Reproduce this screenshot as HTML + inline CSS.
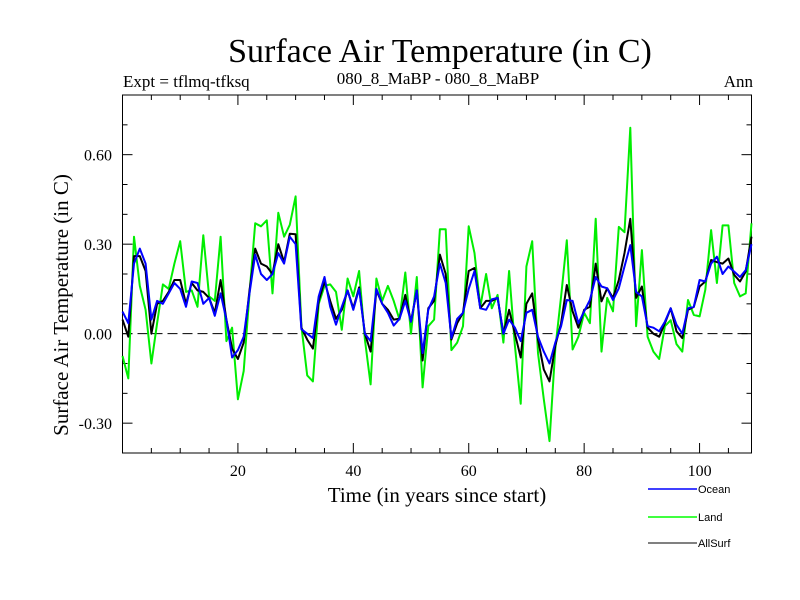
<!DOCTYPE html>
<html><head><meta charset="utf-8"><style>
html,body{margin:0;padding:0;background:#fff;}
svg{display:block;}
text{font-family:"Liberation Serif",serif;fill:#000;}
.leg{font-family:"Liberation Sans",sans-serif;font-size:11px;}
</style></head><body>
<svg id="chart" width="800" height="600" viewBox="0 0 800 600">
<text x="440" y="62" font-size="34" text-anchor="middle">Surface Air Temperature (in C)</text>
<text x="123" y="87" font-size="17">Expt = tflmq-tfksq</text>
<text x="438" y="84" font-size="17" text-anchor="middle">080_8_MaBP - 080_8_MaBP</text>
<text x="753" y="87" font-size="17" text-anchor="end">Ann</text>
<text transform="translate(68,305) rotate(-90)" font-size="21" text-anchor="middle">Surface Air Temperature (in C)</text>
<text x="437" y="502" font-size="21" text-anchor="middle">Time (in years since start)</text>
<g id="axes"></g>
<g id="series"></g>
<g>
<line x1="648" y1="489" x2="697" y2="489" stroke="#0000ff" stroke-width="1.5"/>
<text class="leg" x="698" y="493">Ocean</text>
<line x1="648" y1="517" x2="697" y2="517" stroke="#00ff00" stroke-width="1.5"/>
<text class="leg" x="698" y="521">Land</text>
<line x1="648" y1="543" x2="697" y2="543" stroke="#000" stroke-width="1"/>
<text class="leg" x="698" y="547">AllSurf</text>
</g>
</svg>
<script>
const ocean=[0.074,0.035,0.235,0.285,0.235,0.047,0.11,0.10,0.135,0.17,0.15,0.09,0.175,0.17,0.10,0.12,0.06,0.135,0.047,-0.08,-0.055,-0.01,0.135,0.265,0.20,0.18,0.20,0.27,0.235,0.325,0.30,0.015,0.0,-0.015,0.125,0.19,0.09,0.03,0.09,0.145,0.08,0.15,0.0,-0.025,0.15,0.10,0.07,0.027,0.05,0.11,0.04,0.145,-0.065,0.08,0.125,0.235,0.17,-0.015,0.05,0.07,0.15,0.21,0.085,0.08,0.115,0.12,0.0,0.047,0.02,-0.025,0.07,0.08,-0.01,-0.06,-0.10,-0.03,0.025,0.113,0.11,0.035,0.075,0.113,0.19,0.158,0.152,0.113,0.152,0.225,0.297,0.14,0.125,0.025,0.02,0.008,0.04,0.085,0.03,0.0,0.085,0.09,0.18,0.175,0.235,0.258,0.20,0.225,0.208,0.19,0.213,0.30];
const land=[-0.075,-0.15,0.325,0.16,0.08,-0.10,0.035,0.165,0.15,0.235,0.31,0.14,0.145,0.09,0.33,0.125,0.11,0.325,-0.025,0.02,-0.22,-0.125,0.135,0.37,0.36,0.38,0.135,0.405,0.325,0.365,0.46,0.025,-0.14,-0.16,0.10,0.16,0.165,0.14,0.013,0.185,0.125,0.21,-0.02,-0.17,0.185,0.11,0.16,0.11,0.047,0.205,0.0,0.19,-0.18,0.025,0.047,0.35,0.35,-0.055,-0.03,0.025,0.36,0.27,0.09,0.20,0.085,0.13,-0.03,0.21,-0.04,-0.235,0.225,0.31,-0.065,-0.22,-0.36,-0.05,0.125,0.313,-0.053,-0.01,0.07,0.035,0.385,-0.06,0.12,0.075,0.358,0.34,0.69,0.025,0.28,-0.01,-0.06,-0.085,0.025,0.045,-0.035,-0.06,0.113,0.063,0.058,0.147,0.347,0.17,0.363,0.363,0.17,0.125,0.135,0.37];
const allsurf=[0.047,-0.01,0.26,0.26,0.21,0.0,0.10,0.11,0.14,0.18,0.18,0.10,0.17,0.145,0.14,0.12,0.07,0.18,0.047,-0.05,-0.085,-0.03,0.145,0.285,0.235,0.225,0.20,0.30,0.24,0.335,0.333,0.02,-0.02,-0.05,0.11,0.175,0.11,0.05,0.08,0.145,0.085,0.155,0.0,-0.06,0.145,0.10,0.08,0.047,0.05,0.13,0.04,0.145,-0.09,0.085,0.11,0.265,0.20,-0.02,0.035,0.07,0.21,0.22,0.085,0.11,0.11,0.12,0.0,0.08,0.0,-0.08,0.10,0.135,-0.02,-0.12,-0.16,-0.04,0.035,0.163,0.075,0.02,0.08,0.09,0.235,0.108,0.152,0.12,0.18,0.27,0.385,0.12,0.158,0.02,0.0,-0.01,0.035,0.085,0.008,-0.015,0.08,0.09,0.158,0.175,0.247,0.24,0.235,0.252,0.197,0.175,0.208,0.325];
const yTicks=[-0.3,0,0.3,0.6];
const yTickLabels=["-0.30","0.00","0.30","0.60"];
const xTicks=[20,40,60,80,100];
const xTickLabels=["20","40","60","80","100"];

const L=122.5,R=751.5,T=95,B=453;
const X0=0,X1=109,Y0=-0.4,Y1=0.8;
const xs=v=>L+(v-X0)/(X1-X0)*(R-L);
const ys=v=>B-(v-Y0)/(Y1-Y0)*(B-T);
const NS="http://www.w3.org/2000/svg";
function mk(tag,attrs,parent){const e=document.createElementNS(NS,tag);for(const k in attrs)e.setAttribute(k,attrs[k]);parent.appendChild(e);return e;}
const ax=document.getElementById('axes');
const frame=mk('rect',{x:L,y:T,width:R-L,height:B-T,fill:'none',stroke:'#000','stroke-width':1},ax);


const zl=mk('line',{x1:L,x2:R,y1:ys(0),y2:ys(0),stroke:'#000','stroke-width':1,'stroke-dasharray':'10,5'},ax);


for(let i=-3;i<=7;i++){const v=i/10;const maj=yTicks.some(t=>Math.abs(t-v)<1e-6);const len=maj?10:5;
 const a=mk('line',{x1:L,x2:L+len,y1:ys(v),y2:ys(v),stroke:'#000'},ax);
 
 
 const b=mk('line',{x1:R,x2:R-len,y1:ys(v),y2:ys(v),stroke:'#000'},ax);
 
 }
yTicks.forEach((v,i)=>{const t=mk('text',{x:112,y:ys(v)+6,'font-size':16,'text-anchor':'end'},ax);t.textContent=yTickLabels[i];
 
 });
for(let v=5;v<=105;v+=5){const maj=xTicks.includes(v);const len=maj?10:5;
 const a=mk('line',{x1:xs(v),x2:xs(v),y1:B,y2:B-len,stroke:'#000'},ax);
 
 
 const b=mk('line',{x1:xs(v),x2:xs(v),y1:T,y2:T+len,stroke:'#000'},ax);
 
 }
xTicks.forEach((v,i)=>{const t=mk('text',{x:xs(v),y:476,'font-size':16,'text-anchor':'middle'},ax);t.textContent=xTickLabels[i];
 
 });
const sg=document.getElementById('series');
function draw(arr,color,w,name){const pts=arr.map((v,i)=>xs(i).toFixed(1)+','+ys(v).toFixed(1)).join(' ');
 const p=mk('polyline',{points:pts,fill:'none',stroke:color,'stroke-width':w,'stroke-linejoin':'round'},sg);
 
 }
draw(land,'#00ee00',2,'land-line');
draw(allsurf,'#000000',2,'allsurf-line');
draw(ocean,'#0000ff',2,'ocean-line');
</script>
</body></html>
